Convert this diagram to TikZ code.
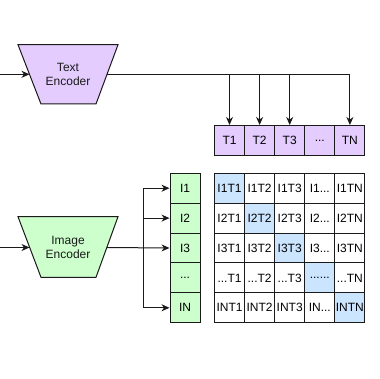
\documentclass[tikz,border=0pt]{standalone}
\usepackage{fontspec}
\setmainfont{Liberation Sans}
\usetikzlibrary{arrows.meta}
\definecolor{lav}{HTML}{E5CCFF}
\definecolor{mint}{HTML}{CCFFCC}
\definecolor{sky}{HTML}{CCE5FF}
\definecolor{ink}{HTML}{1A1A1A}
\newcommand\mydots{...}
\tikzset{
  enc/.style={draw=ink, line width=1pt},
  cell/.style={draw=ink, line width=1pt, minimum width=30pt, minimum height=30pt, inner sep=0pt, font=\fontsize{12}{14}\selectfont, anchor=north west},
  lbl/.style={font=\fontsize{12}{14}\selectfont, align=center, text=ink},
  conn/.style={draw=ink, line width=1pt},
  arr/.style={conn, -{Stealth[length=8pt,width=7pt,inset=2.5pt]}}
}
\begin{document}
\begin{tikzpicture}[x=1pt,y=-1pt]
\useasboundingbox (0,0) rectangle (379,379);
% Text encoder
\filldraw[enc, fill=lav] (18,44.7) -- (118,44.7) -- (96,104) -- (41,104) -- cycle;
\node[lbl] (te) at (68,74.3) {Text\\Encoder};
\coordinate (teL) at (29.5,74.3);
\coordinate (teR) at (107,74.3);
\coordinate (tin) at (0,74.3);
\draw[arr] (tin) -- (teL);
% Image encoder
\filldraw[enc, fill=mint] (18,216.7) -- (118,216.7) -- (96,277.3) -- (41,277.3) -- cycle;
\node[lbl] (ie) at (68,247.5) {Image\\Encoder};
\coordinate (ieL) at (29.5,247.5);
\coordinate (ieR) at (107,247.5);
\coordinate (iin) at (0,247.5);
\draw[arr] (iin) -- (ieL);
% T row
\foreach \t/\lab [count=\i from 0] in {T1/T1,T2/T2,T3/T3,Td/\mydots,TN/TN}{
  \node[cell, fill=lav] (\t) at (214+30.1*\i,125) {\lab};
}
% I column
\foreach \t/\lab [count=\j from 0] in {I1/I1,I2/I2,I3/I3,Id/\mydots,IN/IN}{
  \node[cell, fill=mint] (\t) at (169.5,172.7+29.9*\j) {\lab};
}
% matrix
\foreach \r/\rl [count=\j from 0] in {1/I1,2/I2,3/I3,4/\mydots,5/IN}{
  \foreach \c/\cl [count=\i from 0] in {1/T1,2/T2,3/T3,4/\mydots,5/TN}{
    \ifnum\i=\j
      \node[cell, fill=sky] (m\r\c) at (214+30.1*\i,172.7+29.9*\j) {\ifnum\i=3 ......\else\rl\cl\fi};
    \else
      \node[cell, fill=white] (m\r\c) at (214+30.1*\i,172.7+29.9*\j) {\rl\cl};
    \fi
  }
}
% text encoder outputs
\coordinate (tc) at (TN.north |- teR);
\draw[conn] (teR) -- (tc);
\draw[arr] (tc) -- (TN.north);
\foreach \t in {T1,T2,T3}{
  \draw[arr] (\t.north |- teR) -- (\t.north);
}
% image encoder outputs
\coordinate (bus1) at (143.3,0 |- I1.west);
\coordinate (busN) at (143.3,0 |- IN.west);
\draw[arr] (ieR) -- (I3.west);
\draw[conn] (bus1) -- (busN);
\draw[arr] (bus1) -- (I1.west);
\draw[arr] (bus1 |- I2.west) -- (I2.west);
\draw[arr] (busN) -- (IN.west);
\end{tikzpicture}
\end{document}
